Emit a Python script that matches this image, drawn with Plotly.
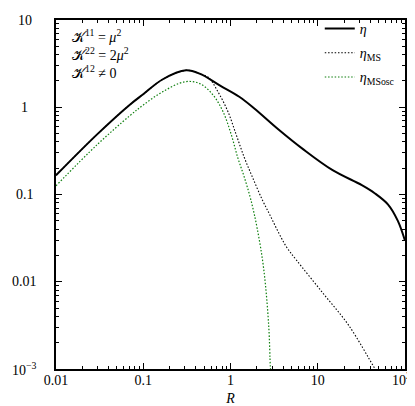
import plotly.graph_objects as go
import math

# eta (solid)
R_eta = [0.01, 0.0296, 0.0702, 0.1, 0.166, 0.31, 0.449, 0.752, 1.26, 1.86, 3.55, 6.78, 14.8, 32, 44.9, 64, 82.8, 100]
eta = [0.166, 0.489, 1.07, 1.41, 2.08, 2.65, 2.41, 1.78, 1.32, 0.975, 0.556, 0.331, 0.190, 0.128, 0.1035, 0.0766, 0.0498, 0.0295]

# eta_MS (black dotted)
R_ms = [0.01, 0.0296, 0.0702, 0.1, 0.166, 0.31, 0.449, 0.556, 0.719, 0.933, 1.159, 1.436, 1.78, 2.31, 2.87, 3.55,
        4.40, 5.70, 11.4, 22.7, 43.4, 47]
eta_ms = [0.166, 0.489, 1.07, 1.41, 2.08, 2.65, 2.41, 2.21, 1.50, 0.895, 0.489, 0.267, 0.159, 0.0871, 0.0566, 0.0367,
          0.0249, 0.0177, 0.00746, 0.00315, 0.00108, 0.00095]

# eta_MSosc (green dotted)
R_osc = [0.01, 0.0296, 0.0702, 0.1, 0.166, 0.30, 0.449, 0.633, 0.819, 1.018, 1.208, 1.436, 1.71, 2.03, 2.41, 2.74,
         2.86, 2.9]
eta_osc = [0.126, 0.372, 0.80, 1.06, 1.50, 1.96, 1.86, 1.375, 0.895, 0.489, 0.267, 0.159, 0.0871, 0.0401, 0.01365,
           0.00315, 0.00108, 0.0009]

xticks = [0.01, 0.1, 1, 10, 100]
xticktext = ["0.01", "0.1", "1", "10", "10<sup>2</sup>\u00a0\u00a0"]
yticks = [0.001, 0.01, 0.1, 1, 10]
yticktext = ["10<sup>−3</sup>", "0.01", "0.1", "1", "10"]

FONT = "Liberation Serif"
GREEN = "#0e7f0e"

fig = go.Figure()
fig.add_trace(go.Scatter(x=R_eta, y=eta, mode="lines", line=dict(color="black", width=2, shape="spline"),
                         name="<i>η</i>", legendgroup="a"))
fig.add_trace(go.Scatter(x=R_ms, y=eta_ms, mode="lines",
                         line=dict(color="black", width=1.1, dash="1.5px,1.8px", shape="spline"),
                         name="<i>η</i><sub>MS</sub>", legendgroup="b"))
fig.add_trace(go.Scatter(x=R_osc, y=eta_osc, mode="lines",
                         line=dict(color=GREEN, width=1.2, dash="1.5px,1.8px", shape="spline"),
                         name="<i>η</i><sub>MSosc</sub>", legendgroup="c"))

axis_common = dict(type="log", showgrid=False, zeroline=False, showline=True, linecolor="black", linewidth=2,
                   mirror="ticks", ticks="inside", ticklen=6, tickwidth=1.3, tickcolor="black",
                   tickfont=dict(family=FONT, size=14, color="black"), ticklabeloverflow="allow",
                   minor=dict(dtick="D1", ticks="inside", ticklen=3, tickcolor="black", tickwidth=1, showgrid=False))

fig.update_xaxes(range=[-2, 2], tickmode="array", tickvals=xticks, ticktext=xticktext, ticklabelstandoff=-3,
                 title=dict(text="<i>R</i>", font=dict(family=FONT, size=14, color="black"), standoff=6),
                 **axis_common)
fig.update_yaxes(range=[-3, 1], tickmode="array", tickvals=yticks, ticktext=yticktext, showticklabels=False,
                 **axis_common)

# y tick labels, centred in the left margin as in the reference
for v, t in zip(yticks, yticktext):
    fig.add_annotation(xref="paper", yref="y", x=-0.09, y=math.log10(v), xanchor="center", yanchor="middle",
                       showarrow=False, text=t, font=dict(family=FONT, size=14, color="black"))

fig.add_annotation(xref="paper", yref="paper", x=0.04, y=0.985, xanchor="left", yanchor="top", showarrow=False,
                   align="left", font=dict(family=FONT, size=14, color="black"),
                   text="𝒦<sup>11</sup> = <i>μ</i><sup>2</sup><br>𝒦<sup>22</sup> = 2<i>μ</i><sup>2</sup><br>𝒦<sup>12</sup> ≠ 0")

fig.update_layout(width=415, height=406, margin=dict(l=48, r=10, t=5, b=45),
                  paper_bgcolor="white", plot_bgcolor="white",
                  font=dict(family=FONT, size=14, color="black"),
                  legend=dict(x=0.985, y=1.02, xanchor="right", yanchor="top", bgcolor="rgba(0,0,0,0)",
                              font=dict(family=FONT, size=14), itemwidth=30, tracegroupgap=3))

fig.write_html("out.html")
